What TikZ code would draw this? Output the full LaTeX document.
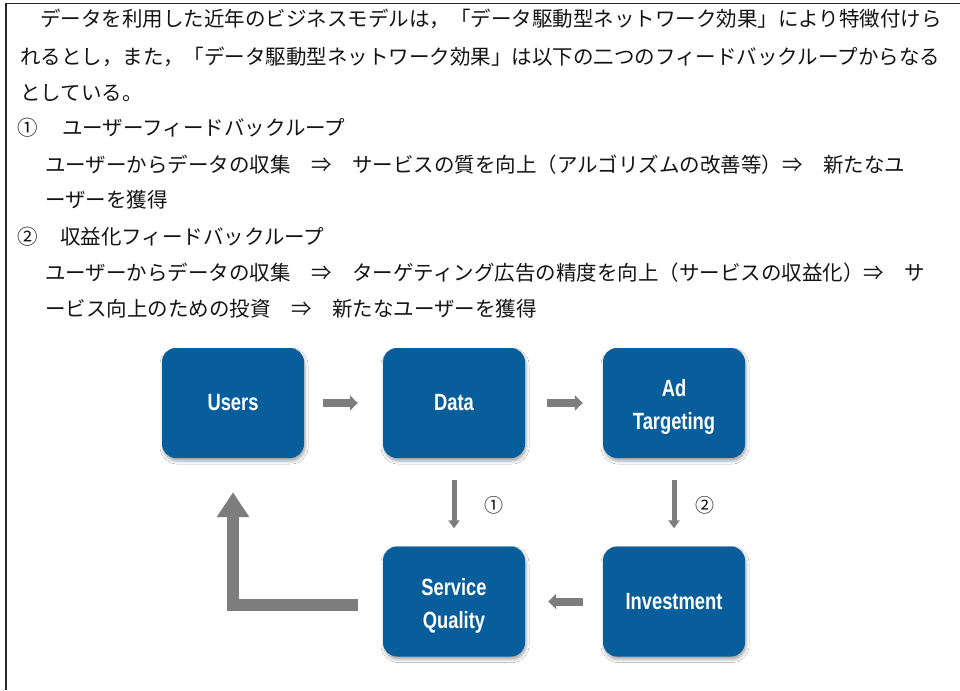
\documentclass[tikz,border=0pt]{standalone}
\usepackage{fontspec}
\usetikzlibrary{arrows.meta,shadows.blur}
\newfontfamily\jp{Noto Sans CJK JP}
\newfontfamily\boxfont[FakeStretch=0.78]{Liberation Sans}
\definecolor{boxblue}{RGB}{8,94,155}
\definecolor{arrowgray}{RGB}{125,125,125}
\definecolor{inktext}{RGB}{20,20,20}
\begin{document}
\begin{tikzpicture}[x=1pt,y=1pt,
  line/.style={inktext, anchor=west, inner sep=0pt, text height=0.88em, text depth=0.12em,
    font=\jp\fontsize{20.5}{24}\selectfont},
  block/.style={fill=boxblue, rounded corners=14pt, minimum width=142pt, minimum height=110pt,
    inner sep=0pt, text=white, align=center,
    font=\boxfont\bfseries\fontsize{23.5}{33}\selectfont,
    blur shadow={shadow xshift=1pt, shadow yshift=-3pt, shadow blur radius=3pt, shadow opacity=35}},
  twoline/.style={text height=58pt, text depth=5pt},
  flow/.style={draw=arrowgray, line width=8pt, -{Triangle[width=15pt,length=8pt]}},
  down/.style={draw=arrowgray, line width=5pt, -{Triangle[width=11pt,length=8pt]}},
  feedback/.style={draw=arrowgray, line width=12pt, -{Triangle[width=31pt,length=25pt]}},
  looplabel/.style={inktext, anchor=west, inner sep=0pt, font=\jp\fontsize{19}{22}\selectfont}
]
\useasboundingbox (0,0) rectangle (960,-690);
\fill[white] (0,0) rectangle (960,-690);

% frame
\draw[line width=1.5pt, black!85] (6,-690) -- (6,-3.5) -- (960,-3.5);

% explanatory text
\node[line] (t1) at (40,-23) {データを利用した近年のビジネスモデルは，「データ駆動型ネットワーク効果」により特徴付けら};
\node[line] (t2) at (20,-61) {れるとし，また，「データ駆動型ネットワーク効果」は以下の二つのフィードバックループからなる};
\node[line] (t3) at (20,-97) {としている。};
\node[line] (n1) at (17,-132) {①};
\node[line] (t4) at (62,-132) {ユーザーフィードバックループ};
\node[line] (t5) at (45,-169) {ユーザーからデータの収集　⇒　サービスの質を向上（アルゴリズムの改善等）⇒　新たなユ};
\node[line] (t6) at (45,-204) {ーザーを獲得};
\node[line] (n2) at (17,-241) {②};
\node[line] (t7) at (60,-241) {収益化フィードバックループ};
\node[line] (t8) at (45,-277) {ユーザーからデータの収集　⇒　ターゲティング広告の精度を向上（サービスの収益化）⇒　サ};
\node[line] (t9) at (45,-313) {ービス向上のための投資　⇒　新たなユーザーを獲得};

% loop blocks
\node[block] (users) at (233,-403)   {Users};
\node[block] (data)  at (454,-403)   {Data};
\node[block, twoline] (ad) at (674,-403)   {Ad\\Targeting};
\node[block, twoline] (sq) at (454,-601.5) {Service\\Quality};
\node[block] (inv)   at (674,-601.5) {Investment};

% connectors
\draw[flow, shorten <=19pt, shorten >=25pt] (users.east) -- (data.west);
\draw[flow, shorten <=22pt, shorten >=20pt] (data.east) -- (ad.west);
\draw[down, shorten <=22pt, shorten >=18pt] (data.south) -- (sq.north)
  node[looplabel, pos=0.54, xshift=28pt] (l1) {①};
\draw[down, shorten <=22pt, shorten >=18pt] (ad.south) -- (inv.north)
  node[looplabel, pos=0.54, xshift=19pt] (l2) {②};
\draw[flow, shorten <=20pt, shorten >=23pt] (inv.west) -- (sq.east);
\draw[feedback, shorten <=25pt, shorten >=34pt] ([yshift=-3pt]sq.west) -| (users.south);
\end{tikzpicture}
\end{document}
